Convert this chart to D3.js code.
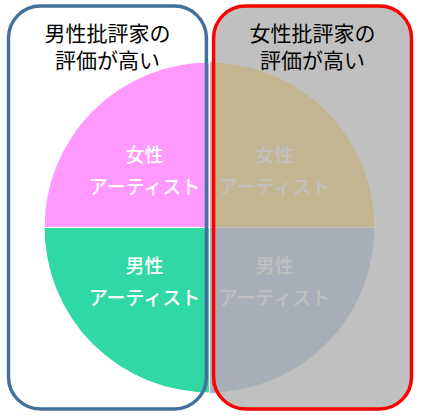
<!DOCTYPE html>
<html>
<head>
<meta charset="utf-8">
<script src="https://cdn.jsdelivr.net/npm/d3@7"></script>
<style>
  html, body { margin: 0; padding: 0; background: #fff; }
  svg { display: block; }
  text { font-family: "Noto Sans CJK JP", "Noto Sans", sans-serif; }
</style>
</head>
<body>
<div id="chart"></div>
<script>
// quadrants, clockwise from 12 o'clock
var artists  = ['女性', '男性', '男性', '女性'];
var critics  = ['女性', '女性', '男性', '男性'];
var shares   = [1, 1, 1, 1];
var sliceColors = ['#c2b592', '#a9afb8', '#2fd8a4', '#ff99ff'];
var labelColors = ['#c0c0c0', '#c0c0c0', '#ffffff', '#ffffff'];
var edgeColors  = ['#c0c0c0', '#c0c0c0', '#ffffff', '#ffffff'];

// the two critic boxes
var boxSides  = ['男性', '女性'];
var boxTitles = [['男性批評家の', '評価が高い'], ['女性批評家の', '評価が高い']];
var boxFills  = ['#ffffff', '#c0c0c0'];
var boxStroke = ['#41719c', '#ff0000'];

var W = 421, H = 418;
var svg = d3.select('#chart').append('svg')
    .attr('width', W)
    .attr('height', H);

// box band scale
var x = d3.scaleBand()
    .domain(boxSides)
    .range([8.5, 411.5])
    .paddingInner(0.035);

var boxTop = 6, boxBottom = 409;

// box fills
svg.selectAll('rect.box-fill')
    .data(boxSides)
    .enter().append('rect')
    .attr('class', 'box-fill')
    .attr('x', function(d) { return x(d); })
    .attr('y', boxTop)
    .attr('width', x.bandwidth())
    .attr('height', boxBottom - boxTop)
    .attr('rx', 32).attr('ry', 32)
    .attr('fill', function(d, i) { return boxFills[i]; });

// pie
var cx = 209.5, cy = 227.5, R = 165.5;
var pie = d3.pie().sort(null).value(function(d) { return d; });
var arc = d3.arc().innerRadius(0).outerRadius(R);
var arcs = pie(shares);

var g = svg.append('g').attr('transform', 'translate(' + cx + ',' + cy + ')');

g.selectAll('path')
    .data(arcs)
    .enter().append('path')
    .attr('d', arc)
    .attr('fill', function(d, i) { return sliceColors[i]; })
    .attr('stroke', function(d, i) { return edgeColors[i]; })
    .attr('stroke-width', 1.2);

// labels in each quadrant
var lx = 65, ly = [-72, -40, 39, 71];
arcs.forEach(function(a, i) {
    var mid = (a.startAngle + a.endAngle) / 2;
    var sx = Math.sin(mid) > 0 ? 1 : -1;
    var top = Math.cos(mid) > 0;
    var y1 = top ? ly[0] : ly[2];
    var y2 = top ? ly[1] : ly[3];
    var t = g.append('text')
        .attr('text-anchor', 'middle')
        .attr('fill', labelColors[i])
        .attr('font-weight', 500)
        .attr('font-size', '19px');
    t.append('tspan').attr('x', sx * lx).attr('y', y1).attr('dy', '0.35em').text(artists[i]);
    t.append('tspan').attr('x', sx * lx).attr('y', y2).attr('dy', '0.35em').text('アーティスト');
});

// titles
boxSides.forEach(function(s, i) {
    var t = svg.append('text')
        .attr('text-anchor', 'middle')
        .attr('fill', '#000')
        .attr('font-size', '21px');
    boxTitles[i].forEach(function(line, j) {
        t.append('tspan')
            .attr('x', x(s) + x.bandwidth() / 2)
            .attr('y', 34 + j * 27)
            .attr('dy', '0.35em')
            .text(line);
    });
});

// box outlines on top
svg.selectAll('rect.box-line')
    .data(boxSides)
    .enter().append('rect')
    .attr('class', 'box-line')
    .attr('x', function(d) { return x(d); })
    .attr('y', boxTop)
    .attr('width', x.bandwidth())
    .attr('height', boxBottom - boxTop)
    .attr('rx', 32).attr('ry', 32)
    .attr('fill', 'none')
    .attr('stroke', function(d, i) { return boxStroke[i]; })
    .attr('stroke-width', 3.5);
</script>
</body>
</html>
